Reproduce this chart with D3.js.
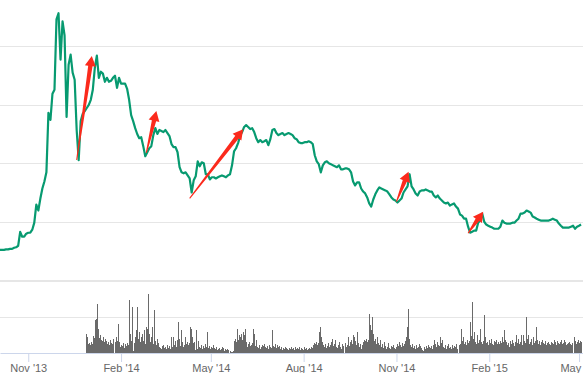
<!DOCTYPE html>
<html>
<head>
<meta charset="utf-8">
<script src="https://cdn.jsdelivr.net/npm/d3@7"></script>
<style>
  body { margin: 0; background: #fff; }
  svg { display: block; font-family: "Lucida Grande", "Lucida Sans Unicode", Arial, Helvetica, sans-serif; }
</style>
</head>
<body>
<div id="chart"></div>
<script>
// price, one value every 2 days from 4 Oct 2013 (USD)
var priceStart = "2013-10-04";
var priceStepDays = 2;
var prices = [
  129,129,129,131,131,133,133,138,140,146,
  206,185,185,198,202,202,215,245,322,297,
  348,391,421,460,714,684,796,813,1114,1140,
  942,1105,1045,697,920,963,886,856,641,512,
  679,710,722,735,748,770,813,907,959,864,
  890,882,847,864,847,851,864,873,821,864,
  839,839,839,817,770,705,679,649,624,606,
  610,572,529,546,563,572,619,649,624,641,
  637,632,641,628,615,581,568,568,546,482,
  460,456,460,447,434,374,426,443,507,486,
  503,499,452,452,430,439,439,434,439,443,
  447,443,439,447,452,490,550,563,585,615,
  632,654,662,654,645,649,632,606,589,598,
  589,593,598,576,602,641,645,628,619,624,
  628,619,624,628,624,619,606,602,589,585,
  585,589,589,593,589,581,533,507,495,460,
  490,503,507,499,495,490,486,482,490,473,
  473,477,477,473,460,421,404,417,417,391,
  378,370,353,327,314,344,366,383,396,391,
  387,383,378,366,353,344,340,331,340,348,
  374,387,400,452,400,387,370,361,378,383,
  383,387,383,378,378,361,353,361,348,340,
  331,327,331,318,323,327,314,305,280,275,
  262,262,228,202,206,211,211,245,254,284,
  249,237,232,228,224,219,219,219,228,254,
  245,241,241,241,245,245,254,262,284,284,
  288,297,293,288,271,267,262,258,254,254,
  254,254,254,258,262,258,254,241,232,224,
  224,224,224,228,232,219,228,232,237
];

// daily volume from 29 Dec 2013
var volumeStart = "2013-12-29";
var volumes = [
  19,16,9,10,8,11,9,17,15,33,
  34,49,24,15,18,13,12,16,11,14,
  12,9,11,8,13,10,9,14,11,16,
  12,29,11,6,8,7,10,5,9,7,
  10,8,53,19,12,46,2,10,16,23,
  46,14,21,11,16,19,12,23,9,26,
  24,59,19,11,16,26,9,43,12,8,
  14,10,6,5,4,7,8,5,6,4,
  8,5,7,4,16,6,16,8,12,6,
  13,31,14,7,23,11,6,8,16,9,
  11,8,10,26,24,16,10,11,3,23,
  4,12,6,5,8,4,7,5,9,6,
  21,5,7,4,6,5,8,5,4,6,
  3,4,5,3,4,6,5,2,4,3,
  4,3,2,1,1,2,12,14,11,24,
  13,18,16,19,13,21,18,24,11,6,
  9,11,7,8,10,24,19,7,13,6,
  5,8,4,6,8,7,9,6,5,7,
  4,8,6,5,23,7,6,9,5,8,
  6,7,4,6,3,5,4,6,5,4,
  3,5,4,6,4,5,3,6,4,5,
  4,6,3,5,4,3,6,4,5,3,
  4,5,4,6,5,8,10,9,11,8,
  10,21,26,16,11,8,6,9,5,7,
  10,6,8,11,14,7,9,13,6,5,
  8,11,6,4,9,7,10,6,8,16,
  7,11,13,9,18,16,12,8,21,10,
  6,9,4,8,11,13,12,14,11,13,
  39,28,23,36,19,12,14,9,16,10,
  8,13,6,9,5,11,7,4,6,10,
  5,4,7,6,8,5,4,6,9,7,
  11,8,6,10,7,9,12,16,26,44,
  14,8,6,9,5,7,4,8,5,6,
  9,7,5,3,2,6,4,7,5,8,
  6,5,7,4,8,13,9,6,11,8,
  7,16,10,13,6,5,8,4,7,9,
  5,6,4,8,5,7,6,9,4,8,
  9,24,12,16,9,11,8,13,10,12,
  31,17,51,14,21,11,9,18,10,13,
  24,11,9,12,38,16,10,11,8,13,
  10,14,9,8,12,11,13,9,11,9,
  12,10,16,11,23,13,11,8,10,6,
  12,9,13,10,7,11,18,10,14,9,
  11,18,8,18,12,10,36,14,18,9,
  11,14,8,16,10,12,26,13,9,12,
  8,11,13,10,9,12,8,10,11,9,
  8,11,10,9,13,11,8,12,10,9,
  11,13,9,10,13,11,8,9,10,11,
  9,8,10,16,12,9,11,13,10,12,
  11
];

var tickDates = ["2013-11-01","2014-02-01","2014-05-01","2014-08-01","2014-11-01","2015-02-01","2015-05-01"];
var tickLabels = ["Nov '13","Feb '14","May '14","Aug '14","Nov '14","Feb '15","May '15"];
var priceGrid = [0, 250, 500, 750, 1000];
var volumeGrid = [36];

// red arrows: low -> following high
var arrowFromDates = ["2013-12-19","2014-02-26","2014-04-10","2014-11-01","2015-01-11"];
var arrowFromPrices = [513, 543, 349, 335, 200];
var arrowToDates = ["2014-01-03","2014-03-08","2014-06-02","2014-11-13","2015-01-26"];
var arrowToPrices = [957, 722, 644, 463, 292];

var width = 583, height = 373;
var parse = d3.utcParse("%Y-%m-%d");

var x = d3.scaleUtc()
  .domain([parse("2013-10-04"), new Date(Date.UTC(2015, 4, 4, 22))])
  .range([0, width]);
var y = d3.scaleLinear().domain([0, 1000]).range([280, 46]);
var yv = d3.scaleLinear().domain([0, 36]).range([353, 317]);

var svg = d3.select("#chart").append("svg")
  .attr("width", width)
  .attr("height", height);

// price grid
var pg = svg.append("g")
  .call(d3.axisLeft(y).tickValues(priceGrid).tickSize(-width).tickFormat(""));
pg.select(".domain").remove();
pg.selectAll(".tick line")
  .attr("stroke", "#e6e6e6")
  .attr("stroke-width", function(d) { return d === 0 ? 2 : 1; })
  .attr("shape-rendering", "crispEdges");

// volume grid
var vg = svg.append("g")
  .call(d3.axisLeft(yv).tickValues(volumeGrid).tickSize(-width).tickFormat(""));
vg.select(".domain").remove();
vg.selectAll(".tick line").attr("stroke", "#e6e6e6").attr("shape-rendering", "crispEdges");

// volume bars
var vStart = parse(volumeStart);
svg.append("g")
  .attr("shape-rendering", "crispEdges")
  .selectAll("rect")
  .data(volumes)
  .enter()
  .append("rect")
  .attr("x", function(d, i) { return Math.floor(x(d3.utcDay.offset(vStart, i))); })
  .attr("width", 1)
  .attr("y", function(d) { return Math.round(yv(d)); })
  .attr("height", function(d) { return yv(0) - Math.round(yv(d)); })
  .attr("fill", "#6a6a6a");

// x axis
var xa = svg.append("g")
  .attr("transform", "translate(0," + yv(0) + ")")
  .call(d3.axisBottom(x)
    .tickValues(tickDates.map(parse))
    .tickFormat(function(d, i) { return tickLabels[i]; })
    .tickSize(9)
    .tickSizeOuter(0)
    .tickPadding(2));
xa.select(".domain").attr("stroke", "#ccd6eb");
xa.selectAll(".tick line").attr("stroke", "#ccd6eb");
xa.selectAll(".tick text")
  .attr("fill", "#666")
  .style("font-size", "11px")
  .style("font-family", "\"Lucida Grande\", \"Lucida Sans Unicode\", Arial, Helvetica, sans-serif");

// price line
var pStart = parse(priceStart);
var line = d3.line()
  .x(function(d, i) { return x(d3.utcDay.offset(pStart, i * priceStepDays)); })
  .y(function(d) { return y(d); });

svg.append("path")
  .datum(prices)
  .attr("d", line)
  .attr("fill", "none")
  .attr("stroke", "#079a70")
  .attr("stroke-width", 2.2)
  .attr("stroke-linejoin", "round");

// arrows
function arrowPath(x0, y0, x1, y1) {
  var dx = x1 - x0, dy = y1 - y0;
  var len = Math.sqrt(dx * dx + dy * dy);
  var ux = dx / len, uy = dy / len;
  var nx = -uy, ny = ux;
  var hl = 10, hw = 5.5, bw = 2.2, tw = 0.5;
  var bx = x1 - ux * hl, by = y1 - uy * hl;
  var pts = [
    [x0 + nx * tw, y0 + ny * tw],
    [bx + nx * bw, by + ny * bw],
    [bx + nx * hw, by + ny * hw],
    [x1, y1],
    [bx - nx * hw, by - ny * hw],
    [bx - nx * bw, by - ny * bw],
    [x0 - nx * tw, y0 - ny * tw]
  ];
  return "M" + pts.map(function(p) { return p[0].toFixed(2) + "," + p[1].toFixed(2); }).join("L") + "Z";
}

svg.append("g")
  .selectAll("path")
  .data(arrowFromDates)
  .enter()
  .append("path")
  .attr("d", function(d, i) {
    return arrowPath(
      x(parse(d)), y(arrowFromPrices[i]),
      x(parse(arrowToDates[i])), y(arrowToPrices[i]));
  })
  .attr("fill", "#fb2a1c");
</script>
</body>
</html>
